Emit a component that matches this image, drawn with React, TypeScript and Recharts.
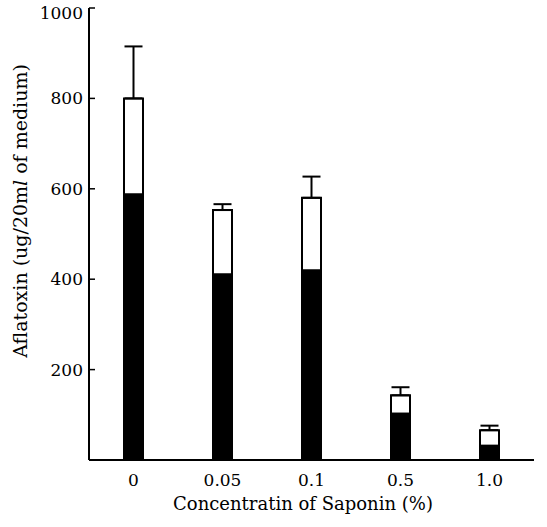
import React from "react";
import { BarChart, Bar, XAxis, YAxis, ErrorBar } from "recharts";

const concentrations = ["0", "0.05", "0.1", "0.5", "1.0"];
const blackPart = [590, 413, 422, 105, 34];
const totalAflatoxin = [800, 553, 580, 143, 66];
const errorUp = [115, 13, 47, 18, 10];
const yTicks = [200, 400, 600, 800, 1000];

const data = concentrations.map((c, i) => ({
  conc: c,
  black: blackPart[i],
  total: totalAflatoxin[i],
  err: [0, errorUp[i]],
}));

const serif = { fontFamily: "DejaVu Serif" };

function YTick(props: any) {
  const { x, y, payload } = props;
  // the top label sits a little under the frame in the scan
  const shift = payload.value === 1000 ? 4 : 0;
  return (
    <text x={x - 12} y={y + shift} dy="0.35em" textAnchor="end" style={serif} fontSize={17} fill="#000">
      {payload.value}
    </text>
  );
}

function XTick(props: any) {
  const { x, y, payload } = props;
  return (
    <text x={x} y={y} dy="0.71em" textAnchor="middle" style={serif} fontSize={17} fill="#000">
      {payload.value}
    </text>
  );
}

export default function App() {
  return (
    <div style={{ position: "absolute", left: 0, top: 0, background: "#fff" }}>
      <BarChart
        width={547}
        height={527}
        data={data}
        margin={{ top: 8, right: 13, left: 0, bottom: 0 }}
        barSize={19}
      >
        <XAxis
          dataKey="conc"
          xAxisId="bottom"
          height={67}
          tickLine={false}
          tickSize={0}
          tickMargin={14}
          tick={<XTick />}
          axisLine={{ stroke: "#000", strokeWidth: 2 }}
          label={{
            content: () => (
              <text x={303} y={510} textAnchor="middle" style={serif} fontSize={18} fill="#000">
                Concentratin of Saponin (%)
              </text>
            ),
          }}
        />
        <XAxis
          dataKey="conc"
          xAxisId="top"
          orientation="top"
          height={0}
          tick={false}
          tickLine={false}
          axisLine={{ stroke: "#000", strokeWidth: 2 }}
        />
        <YAxis
          yAxisId="left"
          width={89}
          domain={[0, 1000]}
          ticks={yTicks}
          tickSize={-6}
          tickMargin={0}
          tick={<YTick />}
          tickLine={{ stroke: "#000", strokeWidth: 1.5 }}
          axisLine={{ stroke: "#000", strokeWidth: 2 }}
          label={{
            content: () => (
              <text
                x={27}
                y={211}
                textAnchor="middle"
                style={serif}
                fontSize={19}
                fill="#000"
                transform="rotate(-90, 27, 211)"
              >
                Aflatoxin (ug/20m<tspan fontStyle="italic">l</tspan> of medium)
              </text>
            ),
          }}
        />
        <YAxis
          yAxisId="right"
          orientation="right"
          width={0}
          domain={[0, 1000]}
          tick={false}
          tickLine={false}
          axisLine={{ stroke: "#000", strokeWidth: 2 }}
        />
        <Bar
          dataKey="total"
          xAxisId="bottom"
          yAxisId="left"
          fill="#fff"
          stroke="#000"
          strokeWidth={2}
          isAnimationActive={false}
        >
          <ErrorBar dataKey="err" width={9} stroke="#000" strokeWidth={2} direction="y" />
        </Bar>
        <Bar dataKey="black" xAxisId="top" yAxisId="left" fill="#000" isAnimationActive={false} />
      </BarChart>
    </div>
  );
}
